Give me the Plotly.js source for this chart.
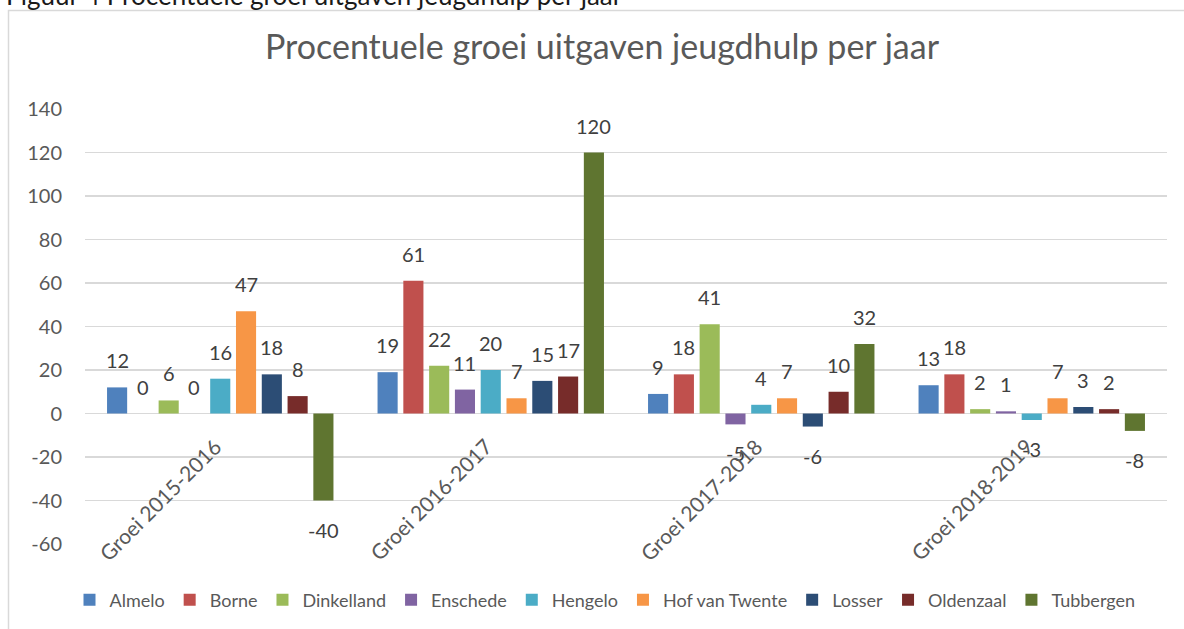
<!DOCTYPE html>
<html><head><meta charset="utf-8">
<script src="https://cdn.plot.ly/plotly-3.0.1.min.js"></script>
<style>html,body{margin:0;padding:0;background:#fff;} #chart{width:1184px;height:629px;}</style>
</head><body><div id="chart"></div>
<script>
const categories = ['Groei 2015-2016', 'Groei 2016-2017', 'Groei 2017-2018', 'Groei 2018-2019'];
const seriesNames = ['Almelo', 'Borne', 'Dinkelland', 'Enschede', 'Hengelo', 'Hof van Twente', 'Losser', 'Oldenzaal', 'Tubbergen'];
const almelo = [12, 19, 9, 13];
const borne = [0, 61, 18, 18];
const dinkelland = [6, 22, 41, 2];
const enschede = [0, 11, -5, 1];
const hengelo = [16, 20, 4, -3];
const hofVanTwente = [47, 7, 7, 7];
const losser = [18, 15, -6, 3];
const oldenzaal = [8, 17, 10, 2];
const tubbergen = [-40, 120, 32, -8];
const seriesValues = [almelo, borne, dinkelland, enschede, hengelo, hofVanTwente, losser, oldenzaal, tubbergen];
const seriesColors = ['#4F81BD', '#C0504D', '#9BBB59', '#8064A2', '#4BACC6', '#F79646', '#2C4D75', '#772C2A', '#5F7530'];
const yTicks = [-60, -40, -20, 0, 20, 40, 60, 80, 100, 120, 140];
const titleText = 'Procentuele groei uitgaven jeugdhulp per jaar';
const captionText = 'Figuur 4 Procentuele groei uitgaven jeugdhulp per jaar';

const FONT = 'Lato, "Open Sans", sans-serif';
const W = 1184, H = 629;
const M = {l: 85, r: 17, t: 109, b: 85};
const BARGAP = 0.142, GROUPGAP = 0.22;
const nS = seriesNames.length;
const slot = (1 - BARGAP) / nS;

const traces = seriesNames.map((name, i) => ({
  type: 'bar',
  name: name,
  x: categories,
  y: seriesValues[i],
  marker: {color: seriesColors[i], line: {width: 0}},
  hoverinfo: 'name+y'
}));

const annotations = [];
// data labels
seriesValues.forEach((vals, i) => {
  vals.forEach((v, j) => {
    annotations.push({
      xref: 'x', yref: 'y',
      x: j + (i - (nS - 1) / 2) * slot,
      y: v,
      text: String(v),
      showarrow: false,
      xanchor: 'center',
      yanchor: v < 0 ? 'top' : 'bottom',
      yshift: v < 0 ? -15 : 13,
      font: {family: FONT, size: 20, color: '#404040'}
    });
  });
});
// category labels
categories.forEach((c, j) => {
  annotations.push({
    xref: 'x', yref: 'y', x: j, y: 0,
    text: c, showarrow: false, textangle: -45,
    xanchor: 'right', yanchor: 'top', xshift: 8, yshift: -17,
    font: {family: FONT, size: 21, color: '#595959'}
  });
});
// document caption (cut off at the top, as in the source)
const pw = W - M.l - M.r, ph = H - M.t - M.b;
annotations.push({
  xref: 'paper', yref: 'paper',
  x: (4 - M.l) / pw, y: (H - M.b - 13.5) / ph,
  xanchor: 'left', yanchor: 'bottom', showarrow: false,
  text: captionText,
  font: {family: FONT, size: 26, color: '#1a1a1a'}
});

const layout = {
  width: W, height: H,
  margin: M,
  paper_bgcolor: '#ffffff', plot_bgcolor: '#ffffff',
  barmode: 'group', bargap: BARGAP, bargroupgap: GROUPGAP,
  font: {family: FONT, color: '#595959'},
  title: {
    text: titleText, xref: 'container', yref: 'container',
    x: 602 / W, y: 1 - 47.5 / H, xanchor: 'center', yanchor: 'middle',
    font: {family: FONT, size: 34, color: '#595959'}
  },
  xaxis: {
    type: 'category', range: [-0.5, categories.length - 0.5],
    showticklabels: false, showgrid: false, zeroline: false, showline: false, ticks: ''
  },
  yaxis: {
    range: [-60, 140], tickvals: yTicks, ticktext: yTicks.map(String),
    showgrid: true, gridcolor: '#d9d9d9', gridwidth: 1.5,
    zeroline: true, zerolinecolor: '#d9d9d9', zerolinewidth: 1.5,
    showline: false, ticks: '', ticklabelstandoff: 22,
    tickfont: {family: FONT, size: 20, color: '#595959'}
  },
  showlegend: true,
  legend: {
    orientation: 'h', xref: 'container', yref: 'container',
    x: 605 / W, xanchor: 'center', y: 1 - 600 / H, yanchor: 'middle',
    font: {family: FONT, size: 18, color: '#595959'},
    traceorder: 'normal', itemclick: false
  },
  shapes: [{
    type: 'path', xref: 'paper', yref: 'paper',
    path: `M ${(8.5 - M.l) / pw} ${(H - M.b + 20) / -ph} L ${(8.5 - M.l) / pw} ${(H - M.b - 10.5) / ph} L ${(W + 20 - M.l) / pw} ${(H - M.b - 10.5) / ph}`,
    line: {color: '#d9d9d9', width: 1.5}
  }],
  annotations: annotations
};

Plotly.newPlot('chart', traces, layout, {displayModeBar: false, staticPlot: true});
</script>
</body></html>
